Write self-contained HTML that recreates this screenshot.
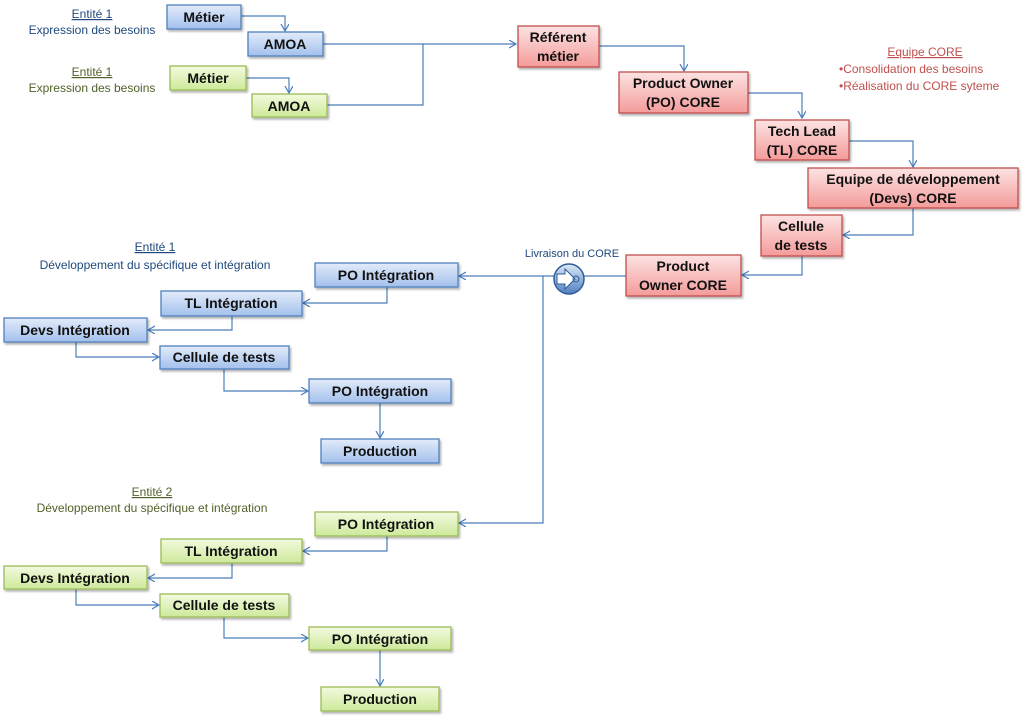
<!DOCTYPE html>
<html><head><meta charset="utf-8"><style>
html,body{margin:0;padding:0;background:#fff;}
svg{display:block;font-family:"Liberation Sans",sans-serif;}
.t{font-weight:bold;font-size:14px;fill:#111;text-anchor:middle;}
.s{font-size:12px;text-anchor:middle;}
.l{fill:none;stroke:#4a7ebb;stroke-width:1.2;}
</style></head><body>
<svg width="1024" height="718" viewBox="0 0 1024 718" xmlns="http://www.w3.org/2000/svg">
<defs>
<linearGradient id="gb" x1="0" y1="0" x2="0" y2="1"><stop offset="0" stop-color="#e3ecfa"/><stop offset="1" stop-color="#a3c0ec"/></linearGradient>
<linearGradient id="gg" x1="0" y1="0" x2="0" y2="1"><stop offset="0" stop-color="#f3fadf"/><stop offset="1" stop-color="#cde99a"/></linearGradient>
<linearGradient id="gr" x1="0" y1="0" x2="0" y2="1"><stop offset="0" stop-color="#fde3e3"/><stop offset="1" stop-color="#f39b9a"/></linearGradient>
<linearGradient id="gc" x1="0" y1="0" x2="0" y2="1"><stop offset="0" stop-color="#dfeaf8"/><stop offset="1" stop-color="#4f7fc0"/></linearGradient>
<marker id="a" markerWidth="10" markerHeight="10" refX="7" refY="4" orient="auto" markerUnits="userSpaceOnUse"><polyline points="0,0 7,4 0,8" fill="none" stroke="#4a7ebb" stroke-width="1.2"/></marker>
<filter id="sh" x="-10%" y="-10%" width="130%" height="150%"><feDropShadow dx="1.5" dy="2" stdDeviation="1" flood-color="#000" flood-opacity="0.3"/></filter>
</defs>

<g class="l" marker-end="url(#a)">
<polyline points="241,16 285,16 285,31"/>
<polyline points="246,78 289,78 289,93"/>
<polyline points="323,44 516,44"/>
<polyline points="599,46 684,46 684,71"/>
<polyline points="748,93 802,93 802,118"/>
<polyline points="849,141 913,141 913,167"/>
<polyline points="913,208 913,235 843,235"/>
<polyline points="802,256 802,275 742,275"/>
<polyline points="543,276 459,276"/>
<polyline points="543,276 543,523 459,523"/>
<polyline points="387,287 387,303 303,303"/>
<polyline points="232,316 232,330 148,330"/>
<polyline points="76,342 76,357 159,357"/>
<polyline points="224,369 224,391 308,391"/>
<polyline points="380,403 380,438"/>
<polyline points="387,536 387,551 303,551"/>
<polyline points="232,563 232,578 148,578"/>
<polyline points="76,589 76,605 159,605"/>
<polyline points="224,617 224,638 308,638"/>
<polyline points="380,650 380,686"/>
</g>
<polyline class="l" points="327,105 423,105 423,44"/>
<line class="l" x1="543" y1="276" x2="626" y2="276"/>

<circle cx="569" cy="279" r="15" fill="url(#gc)" stroke="#2f5c99" stroke-width="1.5"/>
<path d="M557,274 h8 v-5 l10,10 l-10,10 v-5 h-8 z" fill="#fff" stroke="#2f5c99" stroke-width="1"/>
<circle cx="576" cy="279" r="3" fill="none" stroke="#2f5c99"/>

<g filter="url(#sh)" stroke-width="1.3">
<rect x="167" y="5" width="74" height="24" fill="url(#gb)" stroke="#4f81bd"/>
<rect x="248" y="32" width="75" height="24" fill="url(#gb)" stroke="#4f81bd"/>
<rect x="170" y="66" width="76" height="24" fill="url(#gg)" stroke="#9bbb59"/>
<rect x="252" y="94" width="75" height="23" fill="url(#gg)" stroke="#9bbb59"/>
<rect x="518" y="26" width="81" height="41" fill="url(#gr)" stroke="#c0504d"/>
<rect x="619" y="72" width="129" height="41" fill="url(#gr)" stroke="#c0504d"/>
<rect x="755" y="120" width="94" height="40" fill="url(#gr)" stroke="#c0504d"/>
<rect x="808" y="168" width="210" height="40" fill="url(#gr)" stroke="#c0504d"/>
<rect x="761" y="215" width="81" height="41" fill="url(#gr)" stroke="#c0504d"/>
<rect x="626" y="255" width="115" height="41" fill="url(#gr)" stroke="#c0504d"/>

<rect x="315" y="263" width="143" height="24" fill="url(#gb)" stroke="#4f81bd"/>
<rect x="161" y="291" width="141" height="25" fill="url(#gb)" stroke="#4f81bd"/>
<rect x="4" y="318" width="143" height="24" fill="url(#gb)" stroke="#4f81bd"/>
<rect x="160" y="346" width="129" height="23" fill="url(#gb)" stroke="#4f81bd"/>
<rect x="309" y="379" width="142" height="24" fill="url(#gb)" stroke="#4f81bd"/>
<rect x="321" y="439" width="118" height="24" fill="url(#gb)" stroke="#4f81bd"/>

<rect x="315" y="512" width="143" height="24" fill="url(#gg)" stroke="#9bbb59"/>
<rect x="161" y="539" width="141" height="24" fill="url(#gg)" stroke="#9bbb59"/>
<rect x="4" y="566" width="143" height="23" fill="url(#gg)" stroke="#9bbb59"/>
<rect x="160" y="594" width="129" height="23" fill="url(#gg)" stroke="#9bbb59"/>
<rect x="309" y="627" width="142" height="23" fill="url(#gg)" stroke="#9bbb59"/>
<rect x="321" y="687" width="118" height="24" fill="url(#gg)" stroke="#9bbb59"/>
</g>

<g class="t">
<text x="204" y="22">Métier</text>
<text x="285" y="49">AMOA</text>
<text x="208" y="83">Métier</text>
<text x="289" y="111">AMOA</text>
<text x="558" y="42">Référent</text>
<text x="558" y="61">métier</text>
<text x="683" y="88">Product Owner</text>
<text x="683" y="107">(PO) CORE</text>
<text x="802" y="136">Tech Lead</text>
<text x="802" y="155">(TL) CORE</text>
<text x="913" y="184">Equipe de développement</text>
<text x="913" y="203">(Devs) CORE</text>
<text x="801" y="231">Cellule</text>
<text x="801" y="250">de tests</text>
<text x="683" y="271">Product</text>
<text x="683" y="290">Owner CORE</text>
<text x="386" y="280">PO Intégration</text>
<text x="231" y="308">TL Intégration</text>
<text x="75" y="335">Devs Intégration</text>
<text x="224" y="362">Cellule de tests</text>
<text x="380" y="396">PO Intégration</text>
<text x="380" y="456">Production</text>
<text x="386" y="529">PO Intégration</text>
<text x="231" y="556">TL Intégration</text>
<text x="75" y="583">Devs Intégration</text>
<text x="224" y="610">Cellule de tests</text>
<text x="380" y="644">PO Intégration</text>
<text x="380" y="704">Production</text>
</g>

<g class="s">
<text x="92" y="18" fill="#1f497d" text-decoration="underline">Entité 1</text>
<text x="92" y="34" fill="#1f497d">Expression des besoins</text>
<text x="92" y="76" fill="#4f6228" text-decoration="underline">Entité 1</text>
<text x="92" y="92" fill="#4f6228">Expression des besoins</text>
<text x="155" y="251" fill="#1f497d" text-decoration="underline">Entité 1</text>
<text x="155" y="269" fill="#1f497d">Développement du spécifique et intégration</text>
<text x="152" y="496" fill="#4f6228" text-decoration="underline">Entité 2</text>
<text x="152" y="512" fill="#4f6228">Développement du spécifique et intégration</text>
<text x="572" y="257" fill="#1f497d" font-size="11">Livraison du CORE</text>
<text x="925" y="56" fill="#c0504d" text-decoration="underline">Equipe CORE</text>
<text x="839" y="73" fill="#c0504d" text-anchor="start">•Consolidation  des besoins</text>
<text x="839" y="90" fill="#c0504d" text-anchor="start">•Réalisation du CORE syteme</text>
</g>
</svg>
</body></html>
